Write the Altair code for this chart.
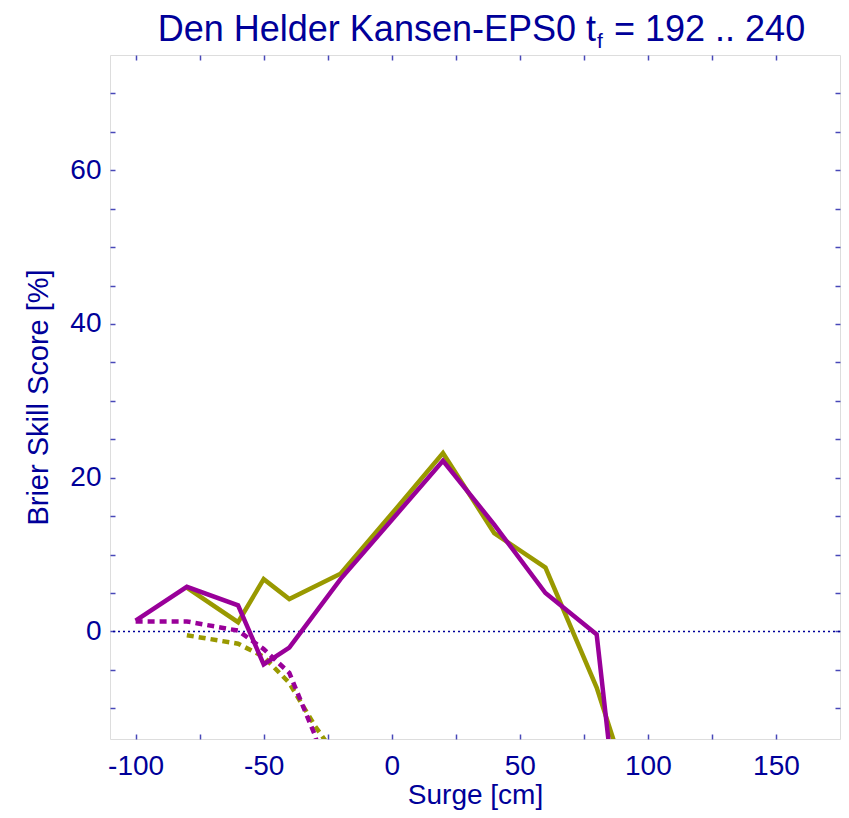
import altair as alt
import pandas as pd

# ---- data ----
x_green = [-80, -60, -50, -40, -20, 0, 20, 40, 60, 80, 100]
green_solid = [5.7, 1.2, 6.8, 4.2, 7.5, 15.3, 23.2, 12.8, 8.3, -7.3, -28.0]

x_purple = [-100, -80, -60, -50, -40, -20, 0, 20, 40, 60, 80, 100]
purple_solid = [1.4, 5.8, 3.4, -4.3, -2.1, 6.8, 14.5, 22.2, 13.9, 5.0, -0.4, -60.0]

x_green_dot = [-80, -60, -50, -40, -30, -20]
green_dotted = [-0.5, -1.6, -3.3, -6.7, -12.3, -17.0]

x_purple_dot = [-100, -80, -60, -50, -40, -30, -20]
purple_dotted = [1.3, 1.3, 0.1, -2.3, -5.4, -13.5, -25.0]

x_label_values = [-100, -50, 0, 50, 100, 150]
x_tick_values = [-100, -75, -50, -25, 0, 25, 50, 75, 100, 125, 150]
y_label_values = [0, 20, 40, 60]
y_tick_values = [-10, -5, 0, 5, 10, 15, 20, 25, 30, 35, 40, 45, 50, 55, 60, 65, 70]

title_main = "Den Helder Kansen-EPS0 t"
title_sub = "f"
title_rest = "= 192 .. 240"

GREEN = "#999900"
PURPLE = "#990099"
NAVY = "#000099"
FRAME = "#4848b8"
FONT = "Liberation Sans"

LEFT = 102   # padding so the plot starts at x = 110 on the page
TOP = 47
W = 730
H = 684

xs = alt.Scale(domain=[-110, 175], nice=False, zero=False)
ys = alt.Scale(domain=[-14, 75], nice=False, zero=False)

def df(x, y):
    return pd.DataFrame({"x": x, "y": y})

label_x_axis = alt.Axis(orient="bottom", values=x_label_values, ticks=False, domain=False,
                        grid=False, labelFontSize=28, labelColor=NAVY, labelFont=FONT,
                        labelPadding=13, title="Surge [cm]", titleFontSize=28,
                        titleFont=FONT, titleColor=NAVY, titleFontWeight="normal",
                        titlePadding=1, labelFlush=False,
                        labelExpr="toString(datum.value)")
label_y_axis = alt.Axis(orient="left", values=y_label_values, ticks=False, domain=False,
                        grid=False, labelFontSize=28, labelColor=NAVY, labelFont=FONT,
                        labelPadding=9, title="Brier Skill Score [%]", titleFontSize=29,
                        titleFont=FONT, titleColor=NAVY, titleFontWeight="normal",
                        titlePadding=16, labelFlush=False,
                        labelExpr="toString(datum.value)")

def tick_axis(orient, values):
    return alt.Axis(orient=orient, values=values, labels=False, domain=False, grid=False,
                    ticks=True, tickSize=5, tickColor=FRAME, tickWidth=1.5,
                    offset=-5, title=None)

zero = alt.Chart(pd.DataFrame({"z": [0]})).mark_rule(
    color=NAVY, strokeDash=[2, 3], strokeWidth=1.5
).encode(y=alt.Y("z:Q", scale=ys, axis=None))

g_dot = alt.Chart(df(x_green_dot, green_dotted)).mark_line(
    color=GREEN, strokeWidth=4.5, strokeDash=[7, 5], clip=True
).encode(x=alt.X("x:Q", scale=xs, axis=tick_axis("top", x_tick_values)),
         y=alt.Y("y:Q", scale=ys, axis=tick_axis("right", y_tick_values)))

p_dot = alt.Chart(df(x_purple_dot, purple_dotted)).mark_line(
    color=PURPLE, strokeWidth=4.5, strokeDash=[7, 5], clip=True
).encode(x=alt.X("x:Q", scale=xs, axis=None),
         y=alt.Y("y:Q", scale=ys, axis=None))

g_sol = alt.Chart(df(x_green, green_solid)).mark_line(
    color=GREEN, strokeWidth=4.5, clip=True
).encode(x=alt.X("x:Q", scale=xs, axis=label_x_axis),
         y=alt.Y("y:Q", scale=ys, axis=label_y_axis))

p_sol = alt.Chart(df(x_purple, purple_solid)).mark_line(
    color=PURPLE, strokeWidth=4.5, clip=True
).encode(x=alt.X("x:Q", scale=xs, axis=tick_axis("bottom", x_tick_values)),
         y=alt.Y("y:Q", scale=ys, axis=tick_axis("left", y_tick_values)))

# title pieces (page x: main ends at 596, subscript at 597, rest starts at 614)
t1 = alt.Chart(pd.DataFrame({"t": [title_main]})).mark_text(
    font=FONT, fontSize=36, color=NAVY, align="right", baseline="alphabetic"
).encode(text="t:N", x=alt.value(596 - 8 - LEFT), y=alt.value(41 - 8 - TOP))
t2 = alt.Chart(pd.DataFrame({"t": [title_sub]})).mark_text(
    font=FONT, fontSize=21, color=NAVY, align="left", baseline="alphabetic"
).encode(text="t:N", x=alt.value(597 - 8 - LEFT), y=alt.value(48 - 8 - TOP))
t3 = alt.Chart(pd.DataFrame({"t": [title_rest]})).mark_text(
    font=FONT, fontSize=36, color=NAVY, align="left", baseline="alphabetic"
).encode(text="t:N", x=alt.value(614 - 8 - LEFT), y=alt.value(41 - 8 - TOP))

chart = alt.layer(zero, g_dot, p_dot, g_sol, p_sol, t1, t2, t3).resolve_axis(
    x="independent", y="independent"
).properties(
    width=W, height=H,
    autosize=alt.AutoSizeParams(type="none"),
    padding={"left": LEFT, "top": TOP, "right": 1, "bottom": 71},
).configure_view(
    stroke=FRAME, strokeWidth=1.5
).configure(background="white")

chart.save("out.html", embed_options={"renderer": "svg", "actions": False})
